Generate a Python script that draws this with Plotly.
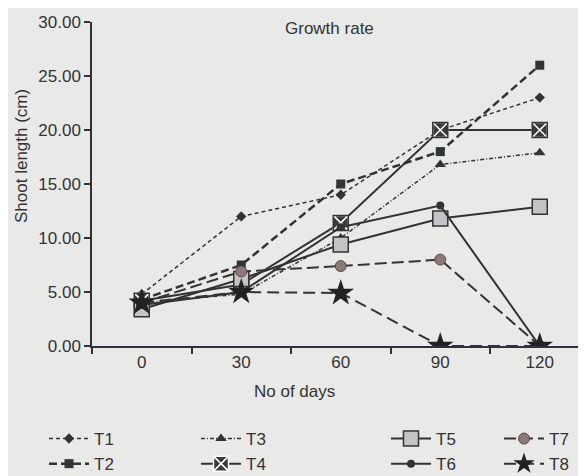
import plotly.graph_objects as go

days = ["0", "30", "60", "90", "120"]
T1 = [4.8, 12.0, 14.0, 20.0, 23.0]
T2 = [4.3, 7.5, 15.0, 18.0, 26.0]
T3 = [4.0, 4.8, 10.0, 16.8, 17.9]
T4 = [4.2, 5.7, 11.4, 20.0, 20.0]
T5 = [3.4, 6.2, 9.4, 11.8, 12.9]
T6 = [3.8, 5.0, 11.0, 13.0, 0.0]
T7 = [4.0, 6.9, 7.4, 8.0, 0.0]
T8 = [4.0, 5.0, 4.9, 0.0, 0.0]

BG = "#e9e9e7"
DK = "#333333"
FONT = "Liberation Sans, Arial, sans-serif"

fig = go.Figure()

def add(name, y, dash, width, marker, legend):
    fig.add_trace(go.Scatter(
        x=days, y=y, name=name, mode="lines+markers",
        line=dict(color=DK, width=width, dash=dash),
        marker=marker, legend=legend))

add("T1", T1, "4px,3px", 1.5, dict(symbol="diamond", size=8, color=DK), "legend")
add("T2", T2, "8px,4px", 2.5, dict(symbol="square", size=9, color="#2f3538"), "legend")
add("T3", T3, "4px,2px,1px,2px", 1.5, dict(symbol="triangle-up", size=10, color=DK), "legend2")
add("T4", T4, "solid", 2, dict(symbol="square-x", size=15, color="#3a3a3a",
                                line=dict(color="white", width=1.5)), "legend2")
fig.add_trace(go.Scatter(x=days, y=T4, mode="markers", showlegend=False, hoverinfo="skip",
                         marker=dict(symbol="square-open", size=15, color=DK,
                                     line=dict(color=DK, width=1.5))))
add("T5", T5, "solid", 2, dict(symbol="square", size=15, color="#c4c4c6",
                                line=dict(color=DK, width=1.5)), "legend3")
add("T6", T6, "solid", 2, dict(symbol="circle", size=8, color=DK), "legend3")
add("T7", T7, "12px,5px", 2, dict(symbol="circle", size=11, color="#8c7874",
                                  line=dict(color="#5a4a48", width=1)), "legend4")
add("T8", T8, "12px,6px", 2, dict(symbol="star", size=20, color="#222222"), "legend4")

# figure layout geometry (figure coordinates; page adds an 8px body offset)
L, T, W, H = 84, 14, 502, 324

def px(xfig):
    return (xfig - L) / W

def py(yfig):
    return (T + H - yfig) / H

leg = dict(orientation="v", bgcolor="rgba(0,0,0,0)", font=dict(size=17, family=FONT, color=DK),
           yanchor="top", xanchor="left", y=py(413), tracegroupgap=0, itemwidth=40)

fig.update_layout(
    width=586, height=476,
    margin=dict(l=L, r=586 - L - W, t=T, b=476 - T - H, autoexpand=False),
    paper_bgcolor=BG, plot_bgcolor=BG,
    font=dict(family=FONT, size=17, color=DK),
    showlegend=True,
    legend=dict(leg, x=px(36)),
    legend2=dict(leg, x=px(188)),
    legend3=dict(leg, x=px(378)),
    legend4=dict(leg, x=px(491)),
    xaxis=dict(type="category", tickson="boundaries", range=[-0.5, 4.545],
               showgrid=False, zeroline=False, showline=True, linecolor="#2c3040", linewidth=1.5,
               ticks="outside", ticklen=6, tickcolor=DK, tickwidth=1.5, automargin=False,
               tickfont=dict(size=17, family=FONT, color=DK)),
    yaxis=dict(range=[0, 30], tickvals=[0, 5, 10, 15, 20, 25, 30], tickformat=".2f",
               showgrid=False, zeroline=False, showline=True, linecolor=DK, linewidth=1.5,
               ticks="outside", ticklen=6, tickcolor=DK, tickwidth=1.5, automargin=False,
               tickfont=dict(size=17, family=FONT, color=DK)),
    annotations=[
        dict(text="Growth rate", x=px(321), y=py(21), xref="paper", yref="paper", showarrow=False,
             xanchor="center", yanchor="middle",
             font=dict(size=17, family=FONT, color=DK)),
        dict(text="Shoot length (cm)", xref="paper", yref="paper", x=px(14), y=py(148),
             textangle=-90, showarrow=False, xanchor="center", yanchor="middle",
             font=dict(size=17, family=FONT, color=DK)),
        dict(text="No of days", xref="paper", yref="paper", x=px(286), y=py(383),
             showarrow=False, xanchor="center", yanchor="middle",
             font=dict(size=17, family=FONT, color=DK)),
    ],
)

fig.write_html("out.html")
